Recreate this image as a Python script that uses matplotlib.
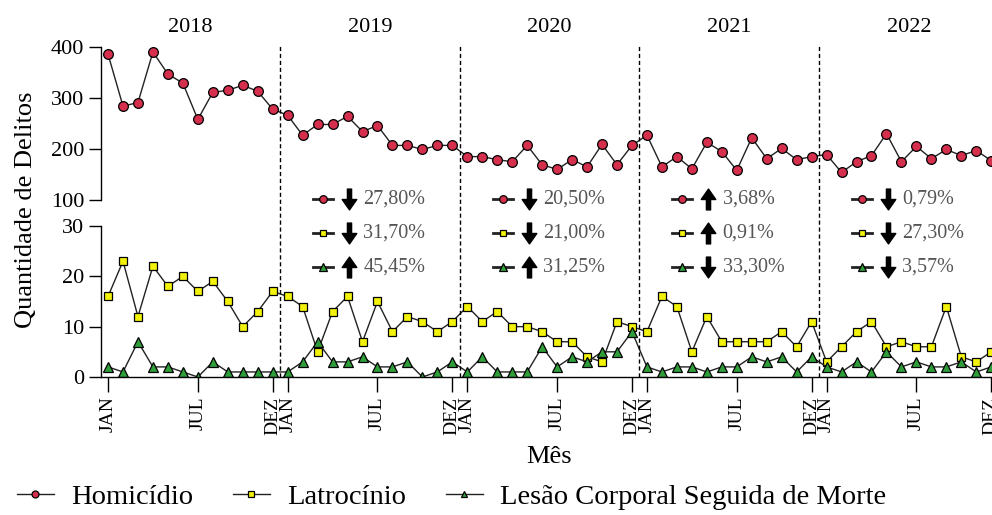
import numpy as np
import matplotlib.pyplot as plt
from matplotlib.lines import Line2D
from matplotlib.path import Path
import matplotlib.transforms as mtransforms

plt.rcParams['font.family'] = ['Liberation Serif', 'DejaVu Serif']

# monthly counts, Jan 2018 .. Dec 2022
homicidio = [386, 284, 291, 390, 347, 329, 258, 311, 315, 325, 313, 278,
             266, 227, 248, 248, 264, 234, 246, 207, 207, 199, 207, 207,
             185, 185, 179, 175, 207, 169, 160, 179, 165, 209, 169, 207,
             227, 165, 185, 161, 213, 195, 158, 222, 181, 201, 179, 185,
             189, 154, 175, 187, 230, 175, 205, 181, 199, 187, 197, 177]
latrocinio = [16, 23, 12, 22, 18, 20, 17, 19, 15, 10, 13, 17,
              16, 14, 5, 13, 16, 7, 15, 9, 12, 11, 9, 11,
              14, 11, 13, 10, 10, 9, 7, 7, 4, 3, 11, 10,
              9, 16, 14, 5, 12, 7, 7, 7, 7, 9, 6, 11,
              3, 6, 9, 11, 6, 7, 6, 6, 14, 4, 3, 5]
lesao = [2, 1, 7, 2, 2, 1, 0, 3, 1, 1, 1, 1,
         1, 3, 7, 3, 3, 4, 2, 2, 3, 0, 1, 3,
         1, 4, 1, 1, 1, 6, 2, 4, 3, 5, 5, 9,
         2, 1, 2, 2, 1, 2, 2, 4, 3, 4, 1, 4,
         2, 1, 3, 1, 5, 2, 3, 2, 2, 3, 1, 2]

anos = ['2018', '2019', '2020', '2021', '2022']
# year-over-year change (2019..2022)
var_hom = ['27,80%', '20,50%', '3,68%', '0,79%']
dir_hom = ['down', 'down', 'up', 'down']
var_lat = ['31,70%', '21,00%', '0,91%', '27,30%']
dir_lat = ['down', 'down', 'up', 'down']
var_les = ['45,45%', '31,25%', '33,30%', '3,57%']
dir_les = ['up', 'up', 'down', 'down']

meses = np.arange(len(homicidio))

c_hom = '#d42f4c'
c_lat = '#f2f20a'
c_les = '#2f9e3a'
sty = dict(color='#222222', lw=1.0, markeredgecolor='black', markeredgewidth=0.9)

fig = plt.figure(figsize=(9.92, 5.15), dpi=100)
ax1 = fig.add_axes([0.1018, 0.6117, 0.905, 0.2971])
ax2 = fig.add_axes([0.1018, 0.2680, 0.905, 0.2932])

ax1.plot(meses, homicidio, marker='o', ms=7, markerfacecolor=c_hom, **sty)
ax2.plot(meses, latrocinio, marker='s', ms=6.2, markerfacecolor=c_lat, **sty)
ax2.plot(meses, lesao, marker='^', ms=6.8, markerfacecolor=c_les, **sty)

for ax in (ax1, ax2):
    ax.set_xlim(-0.47, 59.5)
    for s in ['top', 'right']:
        ax.spines[s].set_visible(False)
    ax.tick_params(axis='y', length=9, width=1, labelsize=16, pad=3)
    ax.spines['left'].set_linewidth(1)

ax1.set_ylim(100, 400)
ax1.set_yticks([100, 200, 300, 400])
ax1.spines['bottom'].set_visible(False)
ax1.set_xticks([])

ax2.set_ylim(0, 30)
ax2.set_yticks([0, 10, 20, 30])
ticks, labels = [], []
for k in range(5):
    ticks += [12 * k, 12 * k + 6, 12 * k + 11]
    labels += ['JAN', 'JUL', 'DEZ']
ax2.set_xticks(ticks)
ax2.set_xticklabels(labels, rotation=90, fontsize=14)
ax2.tick_params(axis='x', length=11, width=1, pad=3)
ax2.spines['bottom'].set_linewidth(1)

# year separators spanning both panels
for k in range(1, 5):
    ax2.axvline(12 * k - 0.5, 0, 2.2, color='black', lw=1,
                ls=(0, (3, 2)), clip_on=False)

# year labels
tr = mtransforms.blended_transform_factory(ax2.transData, fig.transFigure)
for k, a in enumerate(anos):
    ax2.text(12 * k + 5.5, 0.947, a, transform=tr, ha='center', va='center',
             fontsize=16)

# arrow markers
down = Path([(-0.2, 1), (0.2, 1), (0.2, 0), (0.7, 0), (0, -1), (-0.7, 0),
             (-0.2, 0), (-0.2, 1)], closed=True)
up = Path([(-0.2, -1), (0.2, -1), (0.2, 0), (0.7, 0), (0, 1), (-0.7, 0),
           (-0.2, 0), (-0.2, -1)], closed=True)
arrows = {'down': down, 'up': up}

ann = dict(color='#222222', lw=2.0, markeredgecolor='black', markeredgewidth=0.9)
rows = [(0.6136, 'o', c_hom, 5.5, var_hom, dir_hom),
        (0.5476, 's', c_lat, 5.0, var_lat, dir_lat),
        (0.4816, '^', c_les, 5.5, var_les, dir_les)]
for k in range(4):
    x0 = 12 * (k + 1) + 2.36
    for y, mk, col, ms, vals, dirs in rows:
        ax2.plot([x0 - 0.67, x0, x0 + 0.67], [y, y, y], transform=tr,
                 marker=mk, markevery=[1], ms=ms, markerfacecolor=col,
                 clip_on=False, **ann)
        ax2.plot([x0 + 1.75], [y], transform=tr, marker=arrows[dirs[k]],
                 ms=15, color='black', clip_on=False)
        ax2.text(x0 + 2.7, y, vals[k], transform=tr, ha='left', va='center',
                 fontsize=14.5, color='#555555')

fig.text(0.026, 0.592, 'Quantidade de Delitos', rotation=90, ha='center',
         va='center', fontsize=19)
fig.text(0.553, 0.112, 'Mês', ha='center', va='center', fontsize=19)

handles = [Line2D([], [], marker='o', ms=5, markerfacecolor=c_hom, **sty),
           Line2D([], [], marker='s', ms=4.5, markerfacecolor=c_lat, **sty),
           Line2D([], [], marker='^', ms=5, markerfacecolor=c_les, **sty)]
fig.legend(handles, ['Homicídio', 'Latrocínio', 'Lesão Corporal Seguida de Morte'],
           loc='center', bbox_to_anchor=(0.455, 0.035), ncol=3, frameon=False,
           fontsize=20.5, handlelength=1.3, columnspacing=1.4, handletextpad=0.6)

fig.savefig('out.png', dpi=100)
